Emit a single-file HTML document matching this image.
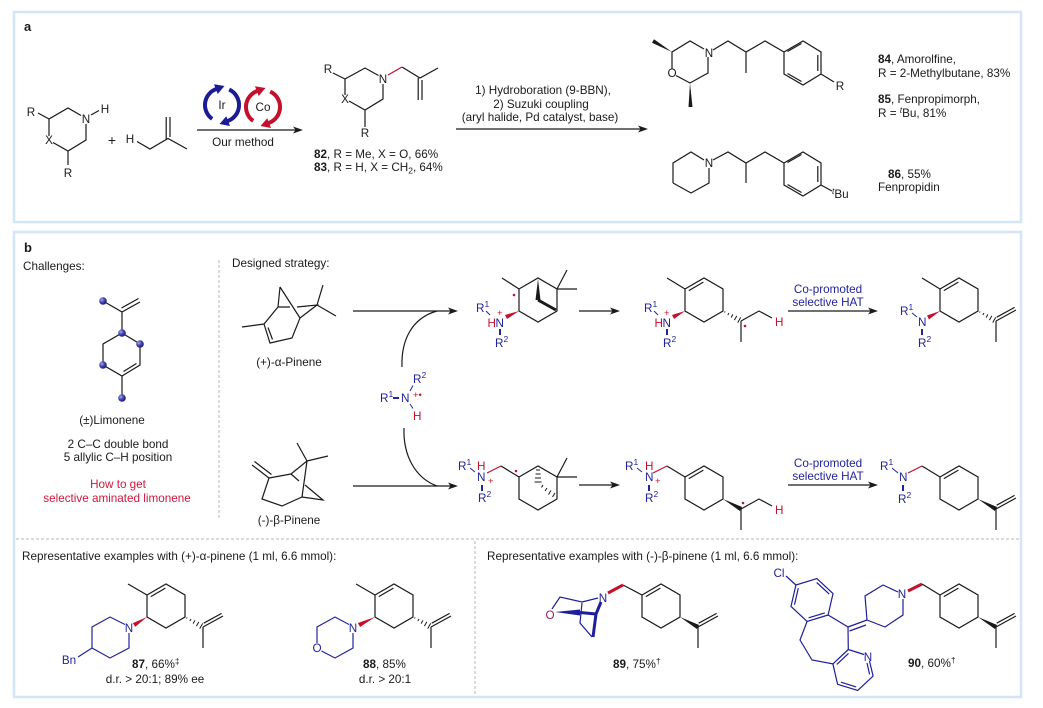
<!DOCTYPE html>
<html><head><meta charset="utf-8">
<style>
html,body{margin:0;padding:0;background:#fff;}
svg{display:block;font-family:"Liberation Sans",Arial,sans-serif;}
</style></head><body>
<svg width="1043" height="708" viewBox="0 0 1043 708" xmlns="http://www.w3.org/2000/svg" font-size="11.7" fill="#1a1a1a">
<defs>
<radialGradient id="ball" cx="35%" cy="35%" r="65%"><stop offset="0" stop-color="#a8a8f0"/><stop offset="0.5" stop-color="#4848b8"/><stop offset="1" stop-color="#1c1c80"/></radialGradient>
<g id="chx" fill="none" stroke="#1a1a1a" stroke-width="1.2">
<path d="M0,0 L19,-11 L38,0 L38,22 L19,33 L0,22 Z"/>
<path d="M3.8,1.6 L18.4,-6.9"/>
</g>
<g id="hex" fill="none" stroke="#1a1a1a" stroke-width="1.2">
<path d="M0,0 L19,-11 L38,0 L38,22 L19,33 L0,22 Z"/>
</g>
<g id="ipr" fill="none" stroke="#1a1a1a" stroke-width="1.2">
<path d="M0,0 L20,-11 M0.7,-3.8 L18.6,-13.6 M0,0 L0,21"/>
</g>
<g id="hash" stroke="#1a1a1a" stroke-width="1" fill="none">
<path d="M1.5,1.5 L2.1,0.5 M4.8,4 L6,2 M8.1,6.6 L9.9,3.4 M11.4,9.1 L13.8,4.9 M14.7,11.6 L17.7,6.4"/>
</g>
<polygon id="wdg" points="0,0 16.9,12 19.1,8" fill="#1a1a1a"/>
</defs>

<!-- ================= PANEL A ================= -->
<rect x="14" y="12" width="1007" height="210" fill="none" stroke="#d2e6f8" stroke-width="2.5"/>
<text x="24" y="31" font-size="13" font-weight="bold">a</text>

<!-- starting amine -->
<g fill="none" stroke="#1a1a1a" stroke-width="1.2">
<path d="M49,136 L49,119 L68,108 L81,115.5 M86,124 L86,140 L68,151 L53,142.5 M38,113 L49,119 M91,115 L99,110.5 M68,151 L68,165"/>
<path d="M137,141.5 L150,149 L168,138.5 L187,149 M166.2,139 L166.2,117 M170,137 L170,117"/>
</g>
<g text-anchor="middle">
<text x="31" y="116">R</text>
<text x="86" y="123">N</text>
<text x="105" y="113">H</text>
<text x="49" y="144">X</text>
<text x="68" y="177">R</text>
<text x="112" y="145" font-size="14">+</text>
<text x="130" y="143">H</text>
</g>

<!-- arrow 1 with catalytic cycles -->
<line x1="197" y1="130" x2="296" y2="130" stroke="#1a1a1a" stroke-width="1.2"/>
<polygon points="303,130 293,126.5 295.5,130 293,133.5" fill="#1a1a1a"/>
<text x="243" y="146" text-anchor="middle">Our method</text>
<g fill="none" stroke="#1b1b95" stroke-width="4">
<path d="M212.2,118.9 A17 17 0 0 1 216.2,89.0"/>
<path d="M229.2,89.6 A17 17 0 0 1 227.8,121.0"/>
</g>
<polygon points="224.5,86 214,84.3 217.7,94" fill="#1b1b95"/>
<polygon points="219.5,124 230,126 226.3,116.3" fill="#1b1b95"/>
<g fill="none" stroke="#c4102c" stroke-width="4">
<path d="M253.2,120.9 A17 17 0 0 1 257.2,91.0"/>
<path d="M270.2,91.6 A17 17 0 0 1 268.8,123.0"/>
</g>
<polygon points="265.5,88 255,86.3 258.7,96" fill="#c4102c"/>
<polygon points="260.5,126 271,128 267.3,118.3" fill="#c4102c"/>
<text x="222" y="109" text-anchor="middle">Ir</text>
<text x="263" y="111" text-anchor="middle">Co</text>

<!-- product 82/83 -->
<g fill="none" stroke="#1a1a1a" stroke-width="1.2">
<path d="M345,95 L345,79 L365,68 L378.5,75.5 M383,84 L383,99 L365,110 L349,101 M333,73 L345,79 M365,110 L365,127"/>
<path d="M402,67 L420,78 L438,68 M418.2,78 L418.2,100 M422,80 L422,100"/>
</g>
<line x1="388" y1="75" x2="402" y2="67" stroke="#c4102c" stroke-width="1.2"/>
<g text-anchor="middle">
<text x="328" y="73">R</text>
<text x="383" y="83">N</text>
<text x="345" y="103">X</text>
<text x="365" y="137">R</text>
</g>
<text x="314" y="158"><tspan font-weight="bold">82</tspan>, R = Me, X = O, 66%</text>
<text x="314" y="171"><tspan font-weight="bold">83</tspan>, R = H, X = CH<tspan font-size="8.5" dy="2.5">2</tspan><tspan dy="-2.5">, 64%</tspan></text>

<!-- arrow 2 -->
<line x1="456" y1="129" x2="641" y2="129" stroke="#1a1a1a" stroke-width="1.2"/>
<polygon points="648,129 638,125.5 640.5,129 638,132.5" fill="#1a1a1a"/>
<g text-anchor="middle">
<text x="543" y="94">1) Hydroboration (9-BBN),</text>
<text x="541" y="108">2) Suzuki coupling</text>
<text x="540" y="121">(aryl halide, Pd catalyst, base)</text>
</g>

<!-- Amorolfine / fenpropimorph -->
<g fill="none" stroke="#1a1a1a" stroke-width="1.2">
<path d="M672,69 L672,52 L690,41 L704,49 M708,57 L708,73 L690,83 L676,75.5"/>
<path d="M713,50 L728,41 L746,52 L765,41 L784,52 M746,52 L746,73"/>
<path d="M784,52 L803,41 L821,52 L821,74 L803,85 L784,74 Z"/>
<path d="M787.5,51.5 L801.5,43.5 M817.8,55 L817.8,71 M801.5,81.5 L787.5,73.5"/>
<path d="M821,74 L834,82"/>
</g>
<polygon points="672,52 654,39.3 652,42.7" fill="#1a1a1a"/>
<polygon points="690,83 692.5,107 688.5,107" fill="#1a1a1a"/>
<g text-anchor="middle">
<text x="709" y="57">N</text>
<text x="672" y="77">O</text>
<text x="840" y="90">R</text>
</g>

<!-- Fenpropidin -->
<g fill="none" stroke="#1a1a1a" stroke-width="1.2">
<path d="M673,183 L673,163 L691,152 L704,160 M709,168 L709,183 L691,193 L673,183"/>
<path d="M713,160 L728,152 L746,163 L765,152 L784,163 M746,163 L746,183"/>
<path d="M784,163 L803,152 L821,163 L821,185 L803,196 L784,185 Z"/>
<path d="M787.5,162.5 L801.5,154.5 M817.8,166 L817.8,182 M801.5,192.5 L787.5,184.5"/>
<path d="M821,185 L832,191"/>
</g>
<text x="709" y="167" text-anchor="middle">N</text>
<text x="832" y="198"><tspan font-style="italic" font-size="8.5" dy="-4">t</tspan><tspan dy="4">Bu</tspan></text>

<text x="878" y="63"><tspan font-weight="bold">84</tspan>, Amorolfine,</text>
<text x="878" y="77">R = 2-Methylbutane, 83%</text>
<text x="878" y="103"><tspan font-weight="bold">85</tspan>, Fenpropimorph,</text>
<text x="878" y="117">R = <tspan font-style="italic" font-size="8.5" dy="-4">t</tspan><tspan dy="4">Bu, 81%</tspan></text>
<text x="888" y="178"><tspan font-weight="bold">86</tspan>, 55%</text>
<text x="878" y="191">Fenpropidin</text>

<!-- ================= PANEL B ================= -->
<rect x="14" y="232" width="1007" height="465" fill="none" stroke="#d2e6f8" stroke-width="2.5"/>
<text x="24" y="252" font-size="13" font-weight="bold">b</text>
<text x="23" y="270">Challenges:</text>
<line x1="219" y1="260" x2="219" y2="520" stroke="#b8b8b8" stroke-width="1" stroke-dasharray="3,2"/>
<text x="232" y="267">Designed strategy:</text>

<!-- limonene -->
<g fill="none" stroke="#1a1a1a" stroke-width="1.2">
<path d="M122,333 L140,344 L140,365 L122,376 L103,365 L103,344 Z"/>
<path d="M136.5,363.5 L123.5,371.5"/>
<path d="M122,333 L122,312 L103,301 M122,312 L140,302 M121.5,308 L138.5,298.5 M122,376 L122,398"/>
</g>
<g fill="url(#ball)">
<circle cx="103" cy="301" r="3.8"/><circle cx="122" cy="333" r="3.8"/><circle cx="140" cy="344" r="3.8"/><circle cx="103" cy="365" r="3.8"/><circle cx="122" cy="398" r="3.8"/>
</g>
<g text-anchor="middle">
<text x="112" y="424">(±)Limonene</text>
<text x="118" y="448">2 C–C double bond</text>
<text x="118" y="461">5 allylic C–H position</text>
<text x="118" y="488" fill="#d0183c">How to get</text>
<text x="117" y="502" fill="#d0183c">selective aminated limonene</text>
</g>

<!-- alpha-pinene -->
<g fill="none" stroke="#1a1a1a" stroke-width="1.2">
<path d="M280,287 L278,307 L264,324 L242,327 M264,324 L270,343 L292,338 L300,318 L280,287 M268,327.5 L272.5,339.5 M278,307 L290,307 M297,307 L317,305 L300,318 M317,305 L323,285 M317,305 L336,316"/>
</g>
<text x="289" y="366" text-anchor="middle">(+)-α-Pinene</text>

<!-- beta-pinene -->
<g fill="none" stroke="#1a1a1a" stroke-width="1.2">
<path d="M252,465 L269,478 M254.5,461.5 L271.5,474.5 M269,478 L291,474 M269,478 L262,499 L282,506 L302,497 L323,500 L305,485 M291,474 L307,461 L297,443 M307,461 L328,456 M307,461 L302,497 M291,474 L299,481"/>
</g>
<text x="289" y="524" text-anchor="middle">(-)-β-Pinene</text>

<!-- pinene arrows -->
<g fill="none" stroke="#1a1a1a" stroke-width="1.2">
<line x1="353" y1="311" x2="451" y2="311"/>
<path d="M402,367 C401,340 412,318 437,311"/>
<line x1="353" y1="486" x2="451" y2="486"/>
<path d="M404,428 C403,455 415,478 437,486"/>
</g>
<polygon points="458,311 448,307.5 450.5,311 448,314.5" fill="#1a1a1a"/>
<polygon points="458,486 448,482.5 450.5,486 448,489.5" fill="#1a1a1a"/>

<!-- aminium radical -->
<text x="380" y="402" fill="#22249c">R<tspan font-size="8.5" dy="-5">1</tspan></text>
<line x1="393" y1="398" x2="399" y2="398" stroke="#22249c" stroke-width="2"/>
<text x="401" y="402" fill="#22249c">N</text>
<text x="413" y="398" fill="#c4102c" font-size="9.5">+•</text>
<text x="413" y="383" fill="#22249c">R<tspan font-size="8.5" dy="-5">2</tspan></text>
<line x1="410" y1="391" x2="413" y2="385.5" stroke="#22249c" stroke-width="1"/>
<line x1="410" y1="404" x2="413" y2="408.5" stroke="#22249c" stroke-width="1"/>
<text x="413" y="420" fill="#c4102c">H</text>

<!-- intermediate 1 -->
<use href="#hex" x="519" y="289"/>
<g fill="none" stroke="#1a1a1a" stroke-width="1.2">
<path d="M519,289 L502,278 M557,289 L567,270 M557,289 L577,289"/>
</g>
<polygon points="538,279 535.5,300 540.5,300" fill="#1a1a1a"/>
<line x1="538" y1="300" x2="556" y2="310" stroke="#1a1a1a" stroke-width="3"/>
<circle cx="514" cy="295" r="1.3" fill="#c4102c"/>
<polygon points="519,311 507,319 505,315" fill="#c4102c"/>
<text x="476" y="312" fill="#22249c">R<tspan font-size="8.5" dy="-5">1</tspan></text>
<line x1="486" y1="311" x2="490" y2="315" stroke="#22249c" stroke-width="1"/>
<text x="487.5" y="327" fill="#c4102c">H</text>
<text x="495.5" y="327" fill="#22249c">N</text>
<text x="497" y="316" fill="#c4102c" font-size="9.5">+</text>
<line x1="500" y1="329" x2="500" y2="335" stroke="#22249c" stroke-width="2"/>
<text x="495" y="347" fill="#22249c">R<tspan font-size="8.5" dy="-5">2</tspan></text>

<line x1="579" y1="311" x2="613" y2="311" stroke="#1a1a1a" stroke-width="1.2"/>
<polygon points="620,311 610,307.5 612.5,311 610,314.5" fill="#1a1a1a"/>

<!-- intermediate 2 -->
<use href="#chx" x="685" y="289"/>
<line x1="685" y1="289" x2="667" y2="278" stroke="#1a1a1a" stroke-width="1.2"/>
<use href="#hash" x="723" y="311"/>
<g fill="none" stroke="#1a1a1a" stroke-width="1.2">
<path d="M741,321 L741,342 M741,321 L759,311 L772,318"/>
</g>
<circle cx="745" cy="326" r="1.3" fill="#c4102c"/>
<text x="775" y="326" fill="#c4102c">H</text>
<polygon points="685,311 674,319 672,315" fill="#c4102c"/>
<text x="644" y="312" fill="#22249c">R<tspan font-size="8.5" dy="-5">1</tspan></text>
<line x1="654" y1="311" x2="658" y2="315" stroke="#22249c" stroke-width="1"/>
<text x="654.5" y="327" fill="#c4102c">H</text>
<text x="662.5" y="327" fill="#22249c">N</text>
<text x="664" y="316" fill="#c4102c" font-size="9.5">+</text>
<line x1="667" y1="329" x2="667" y2="335" stroke="#22249c" stroke-width="2"/>
<text x="663" y="347" fill="#22249c">R<tspan font-size="8.5" dy="-5">2</tspan></text>

<!-- HAT arrow top -->
<line x1="788" y1="311" x2="871" y2="311" stroke="#1a1a1a" stroke-width="1.2"/>
<polygon points="878,311 868,307.5 870.5,311 868,314.5" fill="#1a1a1a"/>
<g text-anchor="middle" fill="#22249c">
<text x="828" y="293">Co-promoted</text>
<text x="828" y="306">selective HAT</text>
</g>

<!-- product top -->
<use href="#chx" x="940" y="289"/>
<line x1="940" y1="289" x2="922" y2="278" stroke="#1a1a1a" stroke-width="1.2"/>
<use href="#hash" x="978" y="311"/>
<use href="#ipr" x="996" y="321"/>
<polygon points="940,311 929,319.5 927,315.5" fill="#c4102c"/>
<text x="900" y="315" fill="#22249c">R<tspan font-size="8.5" dy="-5">1</tspan></text>
<line x1="912" y1="313" x2="917" y2="317" stroke="#22249c" stroke-width="1"/>
<text x="918" y="326" fill="#22249c">N</text>
<line x1="922" y1="329" x2="922" y2="335" stroke="#22249c" stroke-width="2"/>
<text x="918" y="347" fill="#22249c">R<tspan font-size="8.5" dy="-5">2</tspan></text>

<!-- intermediate 3 -->
<use href="#hex" x="519" y="477"/>
<g fill="none" stroke="#1a1a1a" stroke-width="1.2">
<path d="M501,466 L519,477 M557,477 L567,458 M557,477 L577,477"/>
</g>
<g fill="none" stroke="#1a1a1a" stroke-width="1">
<path d="M536,470 L540,470 M535.5,474 L540.5,474 M535,478 L541,478 M534.5,482 L541.5,482"/>
<path d="M543,485 L541.5,487.5 M547,488 L545,491 M551,490.5 L548.5,494.5 M555,493 L552.5,497"/>
</g>
<circle cx="516" cy="471" r="1.3" fill="#c4102c"/>
<line x1="487" y1="473" x2="501" y2="466" stroke="#c4102c" stroke-width="1.2"/>
<text x="458" y="470" fill="#22249c">R<tspan font-size="8.5" dy="-5">1</tspan></text>
<line x1="470" y1="468" x2="475" y2="472" stroke="#22249c" stroke-width="1"/>
<text x="477" y="470" fill="#c4102c">H</text>
<text x="477" y="481" fill="#22249c">N</text>
<text x="488" y="484" fill="#c4102c" font-size="9.5">+</text>
<line x1="482" y1="485" x2="482" y2="491" stroke="#22249c" stroke-width="2"/>
<text x="478" y="502" fill="#22249c">R<tspan font-size="8.5" dy="-5">2</tspan></text>

<line x1="579" y1="485" x2="613" y2="485" stroke="#1a1a1a" stroke-width="1.2"/>
<polygon points="620,485 610,481.5 612.5,485 610,488.5" fill="#1a1a1a"/>

<!-- intermediate 4 -->
<use href="#chx" x="685" y="477"/>
<line x1="667" y1="466" x2="685" y2="477" stroke="#1a1a1a" stroke-width="1.2"/>
<line x1="653" y1="473" x2="667" y2="466" stroke="#c4102c" stroke-width="1.2"/>
<use href="#wdg" x="723" y="499"/>
<g fill="none" stroke="#1a1a1a" stroke-width="1.2">
<path d="M741,509 L741,530 M741,509 L759,499 L772,506"/>
</g>
<circle cx="743" cy="503" r="1.3" fill="#c4102c"/>
<text x="775" y="514" fill="#c4102c">H</text>
<text x="625" y="470" fill="#22249c">R<tspan font-size="8.5" dy="-5">1</tspan></text>
<line x1="637" y1="468" x2="642" y2="472" stroke="#22249c" stroke-width="1"/>
<text x="645" y="470" fill="#c4102c">H</text>
<text x="645" y="481" fill="#22249c">N</text>
<text x="655" y="484" fill="#c4102c" font-size="9.5">+</text>
<line x1="649" y1="485" x2="649" y2="491" stroke="#22249c" stroke-width="2"/>
<text x="645" y="502" fill="#22249c">R<tspan font-size="8.5" dy="-5">2</tspan></text>

<!-- HAT arrow bottom -->
<line x1="788" y1="485" x2="871" y2="485" stroke="#1a1a1a" stroke-width="1.2"/>
<polygon points="878,485 868,481.5 870.5,485 868,488.5" fill="#1a1a1a"/>
<g text-anchor="middle" fill="#22249c">
<text x="828" y="467">Co-promoted</text>
<text x="828" y="480">selective HAT</text>
</g>

<!-- product bottom -->
<use href="#chx" x="940" y="477"/>
<line x1="922" y1="466" x2="940" y2="477" stroke="#1a1a1a" stroke-width="1.2"/>
<line x1="908" y1="473" x2="922" y2="466" stroke="#c4102c" stroke-width="1.2"/>
<use href="#wdg" x="978" y="499"/>
<use href="#ipr" x="996" y="509"/>
<text x="880" y="470" fill="#22249c">R<tspan font-size="8.5" dy="-5">1</tspan></text>
<line x1="892" y1="468" x2="898" y2="473" stroke="#22249c" stroke-width="1"/>
<text x="899" y="481" fill="#22249c">N</text>
<line x1="903" y1="485" x2="903" y2="491" stroke="#22249c" stroke-width="2"/>
<text x="898" y="503" fill="#22249c">R<tspan font-size="8.5" dy="-5">2</tspan></text>

<!-- dashed separators -->
<line x1="16" y1="539" x2="1019" y2="539" stroke="#b8b8b8" stroke-width="1" stroke-dasharray="3,2"/>
<line x1="475" y1="541" x2="475" y2="695" stroke="#b8b8b8" stroke-width="1" stroke-dasharray="3,2"/>

<text x="22" y="560">Representative examples with (+)-α-pinene (1 ml, 6.6 mmol):</text>
<text x="487" y="560">Representative examples with (-)-β-pinene (1 ml, 6.6 mmol):</text>

<!-- 87 -->
<use href="#chx" x="147" y="595"/>
<line x1="147" y1="595" x2="128" y2="584" stroke="#1a1a1a" stroke-width="1.2"/>
<use href="#hash" x="185" y="617"/>
<use href="#ipr" x="203" y="627"/>
<polygon points="147,617 135.2,626.9 132.9,623.1" fill="#c4102c"/>
<g fill="none" stroke="#22249c" stroke-width="1.2">
<path d="M125,624.5 L110,617 L92,627 L92,648 L110,658 L129,648 L129,633 M92,648 L78,657"/>
</g>
<text x="129" y="632" text-anchor="middle" fill="#22249c">N</text>
<text x="69" y="664" text-anchor="middle" fill="#22249c">Bn</text>
<text x="132" y="668"><tspan font-weight="bold">87</tspan>, 66%<tspan font-size="8.5" dy="-4">‡</tspan></text>
<text x="155" y="683" text-anchor="middle">d.r. &gt; 20:1; 89% ee</text>

<!-- 88 -->
<use href="#chx" x="375" y="595"/>
<line x1="375" y1="595" x2="356" y2="584" stroke="#1a1a1a" stroke-width="1.2"/>
<use href="#hash" x="413" y="617"/>
<use href="#ipr" x="431" y="627"/>
<polygon points="375,617 360.1,627 357.9,623" fill="#c4102c"/>
<g fill="none" stroke="#22249c" stroke-width="1.2">
<path d="M349,624.5 L335,617 L317,627 L317,643 M321.5,651 L335,658 L353,648 L353,633"/>
</g>
<text x="353" y="632" text-anchor="middle" fill="#22249c">N</text>
<text x="317" y="652" text-anchor="middle" fill="#22249c">O</text>
<text x="363" y="668"><tspan font-weight="bold">88</tspan>, 85%</text>
<text x="385" y="683" text-anchor="middle">d.r. &gt; 20:1</text>

<!-- 89 -->
<g fill="none" stroke="#1e1e9a" stroke-width="1.2">
<path d="M552,609 L560,597 L582,602 L598,598 M582,603 L580,623 L592,637"/>
</g>
<polygon points="555,612 580,609.5 580,615.5" fill="#1e1e9a"/>
<g fill="none" stroke="#1e1e9a" stroke-width="3">
<path d="M580,612.5 L596,614 M601,602 L596,614 L593,637"/>
</g>
<text x="550" y="619" text-anchor="middle" fill="#a01a6a">O</text>
<text x="603" y="602" text-anchor="middle" fill="#1e1e9a">N</text>
<line x1="608" y1="593" x2="623" y2="585" stroke="#c4102c" stroke-width="3"/>
<line x1="623" y1="585" x2="642" y2="595" stroke="#1a1a1a" stroke-width="1.2"/>
<use href="#chx" x="642" y="595"/>
<use href="#wdg" x="680" y="617"/>
<use href="#ipr" x="698" y="627"/>
<text x="613" y="668"><tspan font-weight="bold">89</tspan>, 75%<tspan font-size="8.5" dy="-4">†</tspan></text>

<!-- 90 -->
<g fill="none" stroke="#1e1e9a" stroke-width="1.2">
<path d="M828.1,615 L807.1,621.4 L791,606.4 L795.9,585 L816.9,578.6 L833,593.6 Z"/>
<path d="M816.7,582.5 L829.2,594.1 M798.3,588.1 L794.5,604.7 M808.6,617.8 L824.8,612.9"/>
<path d="M786,576 L795.9,585"/>
<path d="M828.1,615 L848,627 L848.3,649.5 M848,627 L867,620 M849.5,631 L866,625"/>
<path d="M807.1,621.4 L800,640 L812,660 L832.9,663.9"/>
<path d="M848.3,649.5 L864,654.5 M869.5,661 L873.1,676.1 L857.7,690.5 L837.6,684.3 L832.9,663.9 L848.3,649.5"/>
<path d="M836.8,664.4 L848.5,653.4 M867,663 L869.6,674.4 M856.2,686.9 L840.9,682.2"/>
<path d="M867,620 L865,596 L883,585 L898,592 M903,599 L903,615 L885,627 L867,620"/>
</g>
<text x="779" y="577" text-anchor="middle" fill="#1e1e9a">Cl</text>
<text x="868" y="661" text-anchor="middle" fill="#1e1e9a">N</text>
<text x="902" y="598" text-anchor="middle" fill="#1e1e9a">N</text>
<line x1="908" y1="591" x2="922" y2="584" stroke="#c4102c" stroke-width="3"/>
<line x1="922" y1="584" x2="940" y2="595" stroke="#1a1a1a" stroke-width="1.2"/>
<use href="#chx" x="940" y="595"/>
<use href="#wdg" x="978" y="617"/>
<use href="#ipr" x="996" y="627"/>
<text x="908" y="667"><tspan font-weight="bold">90</tspan>, 60%<tspan font-size="8.5" dy="-4">†</tspan></text>
</svg>
</body></html>
